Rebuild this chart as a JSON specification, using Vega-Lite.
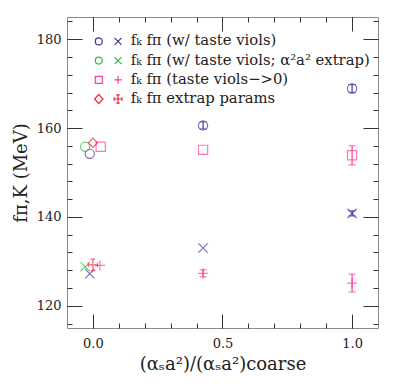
{
  "$schema": "https://vega.github.io/schema/vega-lite/v6.json",
  "width": 311,
  "height": 311,
  "autosize": "none",
  "padding": {"left": 67, "top": 17, "right": 31, "bottom": 59},
  "config": {
    "view": {"stroke": "#8a8a8a", "strokeWidth": 1},
    "axis": {
      "domain": false,
      "grid": false,
      "tickColor": "#333333",
      "tickWidth": 1,
      "labelColor": "#222222",
      "labelFont": "DejaVu Serif",
      "labelFontSize": 13,
      "titleFont": "DejaVu Serif",
      "titleFontSize": 18,
      "titleFontWeight": "normal",
      "titleColor": "#222222"
    }
  },
  "data": {
    "values": [
      {"series": "fₖ fπ (w/ taste viols)", "sym": "circle", "x": -0.012, "y": 154.2},
      {"series": "fₖ fπ (w/ taste viols)", "sym": "circle", "x": 0.425, "y": 160.6, "lo": 159.8, "hi": 161.4},
      {"series": "fₖ fπ (w/ taste viols)", "sym": "circle", "x": 1.0, "y": 168.9, "lo": 168.0, "hi": 169.8},
      {"series": "fₖ fπ (w/ taste viols)", "sym": "x", "x": -0.012, "y": 127.2},
      {"series": "fₖ fπ (w/ taste viols)", "sym": "x", "x": 0.425, "y": 133.0},
      {"series": "fₖ fπ (w/ taste viols)", "sym": "x", "x": 1.0, "y": 140.8, "lo": 140.2, "hi": 141.4},
      {"series": "fₖ fπ (w/ taste viols; α²a² extrap)", "sym": "circle", "x": -0.03, "y": 155.8},
      {"series": "fₖ fπ (w/ taste viols; α²a² extrap)", "sym": "x", "x": -0.03, "y": 128.8},
      {"series": "fₖ fπ (taste viols−>0)", "sym": "square", "x": 0.03, "y": 155.8},
      {"series": "fₖ fπ (taste viols−>0)", "sym": "plus", "x": 0.027, "y": 129.1},
      {"series": "fₖ fπ (taste viols−>0)", "sym": "square", "x": 0.425, "y": 155.1},
      {"series": "fₖ fπ (taste viols−>0)", "sym": "plus", "x": 0.425, "y": 127.3, "lo": 126.5, "hi": 128.1},
      {"series": "fₖ fπ (taste viols−>0)", "sym": "square", "x": 1.0, "y": 153.9, "lo": 151.7, "hi": 156.0},
      {"series": "fₖ fπ (taste viols−>0)", "sym": "plus", "x": 1.0, "y": 125.1, "lo": 123.1, "hi": 127.1},
      {"series": "fₖ fπ extrap params", "sym": "diamond", "x": 0.0, "y": 156.7},
      {"series": "fₖ fπ extrap params", "sym": "pluserr", "x": 0.0, "y": 129.2}
    ]
  },
  "resolve": {"axis": {"x": "independent", "y": "independent"}, "scale": {"shape": "independent", "color": "independent"}},
  "layer": [
    {
      "mark": {"type": "point", "filled": false, "strokeWidth": 1.2, "size": 85},
      "encoding": {
        "x": {
          "field": "x", "type": "quantitative",
          "scale": {"domain": [-0.1, 1.1]},
          "axis": {"orient": "bottom", "values": [0, 0.5, 1], "format": ".1f", "tickSize": -14, "labelPadding": 23, "title": "(αₛa²)/(αₛa²)coarse", "titlePadding": 5}
        },
        "y": {
          "field": "y", "type": "quantitative",
          "scale": {"domain": [115, 185]},
          "axis": {"orient": "left", "values": [120, 140, 160, 180], "tickSize": -15, "labelPadding": 21, "title": "fπ,K (MeV)", "titlePadding": 6}
        },
        "color": {
          "field": "series", "type": "nominal",
          "scale": {
            "domain": ["fₖ fπ (w/ taste viols)", "fₖ fπ (w/ taste viols; α²a² extrap)", "fₖ fπ (taste viols−>0)", "fₖ fπ extrap params"],
            "range": ["#4433a0", "#2db84a", "#ff3d9a", "#f0233a"]
          },
          "legend": null
        },
        "shape": {
          "field": "sym", "type": "nominal",
          "scale": {
            "domain": ["circle", "square", "diamond", "x", "plus", "pluserr"],
            "range": ["circle", "square", "diamond", "M-1,-1L1,1M-1,1L1,-1", "M-1.1,0L1.1,0M0,-1.1L0,1.1", "M-1,0L1,0M-1,-0.5L-1,0.5M1,-0.5L1,0.5M0,-1.25L0,1.25M-0.5,-1.25L0.5,-1.25M-0.5,1.25L0.5,1.25"]
          },
          "legend": null
        }
      }
    },
    {
      "mark": {"type": "point", "filled": false, "strokeWidth": 1.2, "opacity": 0},
      "encoding": {
        "x": {"field": "x", "type": "quantitative", "axis": null},
        "y": {"field": "y", "type": "quantitative", "axis": null},
        "color": {
          "field": "series", "type": "nominal",
          "scale": {
            "domain": ["fₖ fπ (w/ taste viols)", "fₖ fπ (w/ taste viols; α²a² extrap)", "fₖ fπ (taste viols−>0)", "fₖ fπ extrap params"],
            "range": ["#4433a0", "#2db84a", "#ff3d9a", "#f0233a"]
          },
          "legend": {
            "orient": "none", "legendX": 34, "legendY": 17, "title": null, "padding": 0,
            "symbolSize": 49, "symbolStrokeWidth": 1.2, "symbolOpacity": 1, "symbolFillColor": "transparent",
            "labelFont": "DejaVu Serif", "labelFontSize": 14.8, "labelColor": "#222222", "labelLimit": 400,
            "labelOffset": 15, "rowPadding": 3.2
          }
        },
        "shape": {
          "field": "series", "type": "nominal",
          "scale": {
            "domain": ["fₖ fπ (w/ taste viols)", "fₖ fπ (w/ taste viols; α²a² extrap)", "fₖ fπ (taste viols−>0)", "fₖ fπ extrap params"],
            "range": [
              "M-3.75,0A1,1,0,1,1,-1.75,0A1,1,0,1,1,-3.75,0ZM1.75,-1L3.75,1M1.75,1L3.75,-1",
              "M-3.75,0A1,1,0,1,1,-1.75,0A1,1,0,1,1,-3.75,0ZM1.75,-1L3.75,1M1.75,1L3.75,-1",
              "M-3.75,-1H-1.75V1H-3.75ZM1.65,0H3.85M2.75,-1.1V1.1",
              "M-2.75,-1.3L-1.55,0L-2.75,1.3L-3.95,0ZM1.65,0H3.85M1.65,-0.5V0.5M3.85,-0.5V0.5M2.75,-1.2V1.2M2.25,-1.2H3.25M2.25,1.2H3.25"
            ]
          },
          "legend": {
            "orient": "none", "legendX": 34, "legendY": 17, "title": null, "padding": 0,
            "symbolSize": 49, "symbolStrokeWidth": 1.2, "symbolOpacity": 1, "symbolFillColor": "transparent",
            "labelFont": "DejaVu Serif", "labelFontSize": 14.8, "labelColor": "#222222", "labelLimit": 400,
            "labelOffset": 15, "rowPadding": 3.2
          }
        }
      }
    },
    {
      "transform": [{"filter": "isValid(datum.lo)"}],
      "mark": {"type": "rule", "strokeWidth": 1.2},
      "encoding": {
        "x": {"field": "x", "type": "quantitative", "axis": null},
        "y": {"field": "lo", "type": "quantitative", "axis": null},
        "y2": {"field": "hi"},
        "color": {
          "field": "series", "type": "nominal",
          "scale": {
            "domain": ["fₖ fπ (w/ taste viols)", "fₖ fπ (w/ taste viols; α²a² extrap)", "fₖ fπ (taste viols−>0)", "fₖ fπ extrap params"],
            "range": ["#4433a0", "#2db84a", "#ff3d9a", "#f0233a"]
          },
          "legend": null
        }
      }
    },
    {
      "transform": [{"filter": "isValid(datum.lo)"}],
      "mark": {"type": "tick", "orient": "horizontal", "size": 7, "thickness": 1.2},
      "encoding": {
        "x": {"field": "x", "type": "quantitative", "axis": null},
        "y": {"field": "lo", "type": "quantitative", "axis": null},
        "color": {
          "field": "series", "type": "nominal",
          "scale": {
            "domain": ["fₖ fπ (w/ taste viols)", "fₖ fπ (w/ taste viols; α²a² extrap)", "fₖ fπ (taste viols−>0)", "fₖ fπ extrap params"],
            "range": ["#4433a0", "#2db84a", "#ff3d9a", "#f0233a"]
          },
          "legend": null
        }
      }
    },
    {
      "transform": [{"filter": "isValid(datum.hi)"}],
      "mark": {"type": "tick", "orient": "horizontal", "size": 7, "thickness": 1.2},
      "encoding": {
        "x": {"field": "x", "type": "quantitative", "axis": null},
        "y": {"field": "hi", "type": "quantitative", "axis": null},
        "color": {
          "field": "series", "type": "nominal",
          "scale": {
            "domain": ["fₖ fπ (w/ taste viols)", "fₖ fπ (w/ taste viols; α²a² extrap)", "fₖ fπ (taste viols−>0)", "fₖ fπ extrap params"],
            "range": ["#4433a0", "#2db84a", "#ff3d9a", "#f0233a"]
          },
          "legend": null
        }
      }
    },
    {
      "mark": {"type": "point", "opacity": 0},
      "encoding": {
        "x": {"field": "x", "type": "quantitative", "axis": {"orient": "bottom", "values": [0, 0.1, 0.2, 0.3, 0.4, 0.5, 0.6, 0.7, 0.8, 0.9, 1.0], "tickSize": -5, "labels": false, "title": null}},
        "y": {"field": "y", "type": "quantitative", "axis": {"orient": "left", "values": [116, 120, 124, 128, 132, 136, 140, 144, 148, 152, 156, 160, 164, 168, 172, 176, 180, 184], "tickSize": -5, "labels": false, "title": null}}
      }
    },
    {
      "mark": {"type": "point", "opacity": 0},
      "encoding": {
        "x": {"field": "x", "type": "quantitative", "axis": {"orient": "top", "values": [0, 0.5, 1], "tickSize": -14, "labels": false, "title": null}},
        "y": {"field": "y", "type": "quantitative", "axis": {"orient": "right", "values": [120, 140, 160, 180], "tickSize": -15, "labels": false, "title": null}}
      }
    },
    {
      "mark": {"type": "point", "opacity": 0},
      "encoding": {
        "x": {"field": "x", "type": "quantitative", "axis": {"orient": "top", "values": [0, 0.1, 0.2, 0.3, 0.4, 0.5, 0.6, 0.7, 0.8, 0.9, 1.0], "tickSize": -5, "labels": false, "title": null}},
        "y": {"field": "y", "type": "quantitative", "axis": {"orient": "right", "values": [116, 120, 124, 128, 132, 136, 140, 144, 148, 152, 156, 160, 164, 168, 172, 176, 180, 184], "tickSize": -5, "labels": false, "title": null}}
      }
    }
  ]
}
